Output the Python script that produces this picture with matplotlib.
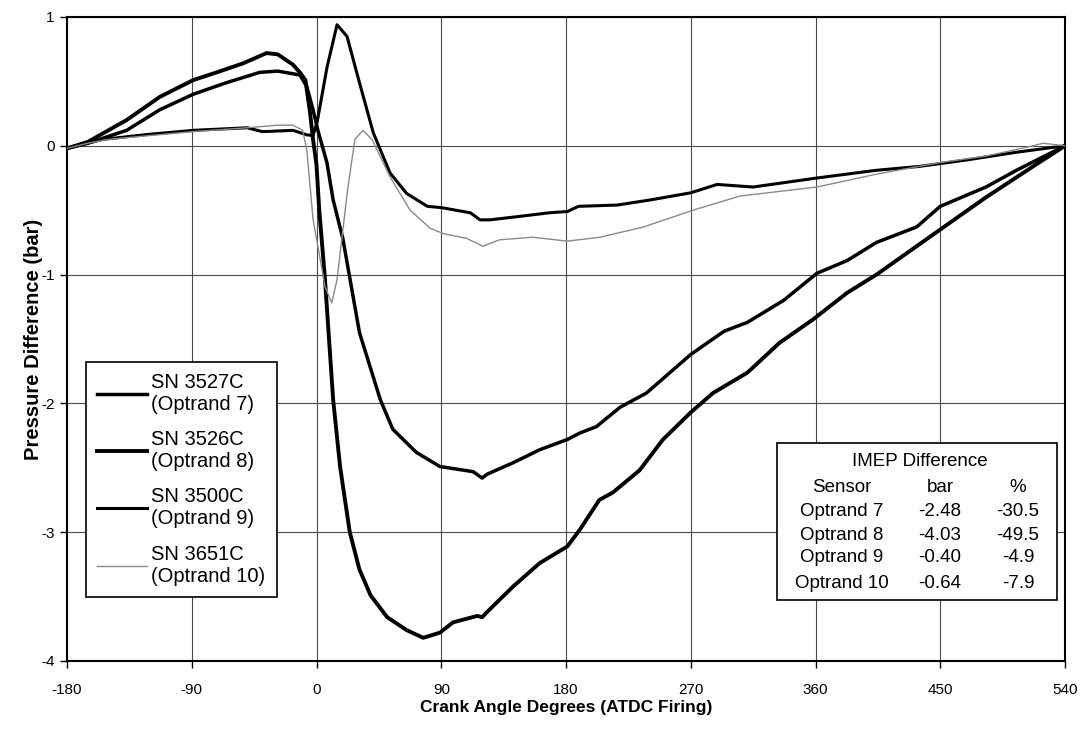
import matplotlib
matplotlib.use("Agg")
import matplotlib.pyplot as plt

plt.rcParams['font.family'] = ['Liberation Sans', 'DejaVu Sans']
plt.rcParams['axes.unicode_minus'] = False

# ---------------- data ----------------
labels = ["SN 3527C\n(Optrand 7)", "SN 3526C\n(Optrand 8)",
          "SN 3500C\n(Optrand 9)", "SN 3651C\n(Optrand 10)"]

x7 = [-180, -165, -137, -113, -89, -65, -41, -28, -12, -7, -2.5, 1, 7.5, 12, 19, 31, 46, 55,
      72, 89, 113, 119.5, 123, 142, 161, 181, 190, 202, 219, 238, 270, 294, 311, 337, 361,
      383, 404, 433, 450, 483, 505, 540]
y7 = [-0.02, 0.02, 0.12, 0.28, 0.40, 0.49, 0.57, 0.58, 0.55, 0.46, 0.28, 0.12, -0.13, -0.42,
      -0.72, -1.45, -1.97, -2.2, -2.38, -2.49, -2.53, -2.58, -2.55, -2.46, -2.36, -2.28, -2.23,
      -2.18, -2.03, -1.92, -1.62, -1.44, -1.37, -1.2, -0.99, -0.89, -0.75, -0.63, -0.47, -0.32,
      -0.19, 0.0]

x8 = [-180, -165, -137, -113, -89, -72, -53, -36, -28, -17, -12, -8, -4.7, -2.5, 0, 2, 6, 12,
      17, 24, 31, 39, 51, 65, 77, 89, 98.5, 116, 119.5, 123, 142, 161, 181, 190, 204, 214,
      233, 250, 270, 286, 311, 334, 358, 383, 404, 450, 483, 517, 540]
y8 = [-0.02, 0.03, 0.2, 0.38, 0.51, 0.57, 0.64, 0.72, 0.71, 0.63, 0.57, 0.51, 0.26, 0.05,
      -0.15, -0.5, -1.02, -1.97, -2.49, -3.0, -3.29, -3.49, -3.66, -3.76, -3.82, -3.78, -3.70,
      -3.65, -3.66, -3.62, -3.42, -3.24, -3.11, -2.98, -2.75, -2.69, -2.52, -2.28, -2.07,
      -1.92, -1.76, -1.53, -1.35, -1.14, -1.0, -0.65, -0.40, -0.16, 0.0]

x9 = [-180, -165, -154, -120, -89, -50, -39, -17, -7, -2.5, 0.4, 7.6, 14.8, 22, 31, 41, 53,
      65, 80, 90, 111, 118, 125, 145, 168, 181, 189, 217, 241, 270, 289, 315, 361, 404, 435,
      469, 505, 540]
y9 = [-0.02, 0.02, 0.05, 0.09, 0.12, 0.14, 0.11, 0.12, 0.085, 0.08, 0.18, 0.61, 0.94, 0.85,
      0.49, 0.10, -0.21, -0.37, -0.47, -0.48, -0.52, -0.575, -0.575, -0.55, -0.52, -0.51,
      -0.47, -0.46, -0.42, -0.365, -0.30, -0.32, -0.25, -0.19, -0.16, -0.11, -0.05, 0.0]

x10 = [-180, -165, -150, -120, -89, -50, -28, -17, -10, -7, -2.5, 1, 4, 6, 11, 14.8, 18.4,
       22.7, 27.7, 33.5, 40, 53, 67.5, 82, 91, 108.6, 120, 132, 156, 181, 204.5, 236, 271.6,
       305.6, 361, 404, 450, 483, 517, 524, 540]
y10 = [-0.02, 0.02, 0.05, 0.08, 0.11, 0.14, 0.16, 0.16, 0.12, -0.03, -0.57, -0.78, -0.96,
       -1.09, -1.22, -1.04, -0.71, -0.32, 0.05, 0.12, 0.05, -0.24, -0.5, -0.64, -0.68, -0.72,
       -0.78, -0.73, -0.71, -0.74, -0.71, -0.63, -0.5, -0.39, -0.32, -0.22, -0.13, -0.08, 0.0,
       0.02, 0.0]

xticks = [-180, -90, 0, 90, 180, 270, 360, 450, 540]
yticks = [-4, -3, -2, -1, 0, 1]

table_title = "IMEP Difference"
table_header = ["Sensor", "bar", "%"]
table_sensors = ["Optrand 7", "Optrand 8", "Optrand 9", "Optrand 10"]
table_bar = ["-2.48", "-4.03", "-0.40", "-0.64"]
table_pct = ["-30.5", "-49.5", "-4.9", "-7.9"]

# ---------------- figure ----------------
fig = plt.figure(figsize=(10.81, 7.32), dpi=100)
ax = fig.add_axes([67 / 1081, 1 - 661 / 732, 998 / 1081, 644 / 732])

ax.plot(x7, y7, color='black', lw=2.5, label=labels[0], zorder=3)
ax.plot(x8, y8, color='black', lw=2.8, label=labels[1], zorder=3)
ax.plot(x9, y9, color='black', lw=2.2, label=labels[2], zorder=3)
ax.plot(x10, y10, color='#8a8a8a', lw=1.0, label=labels[3], zorder=3)

ax.set_xlim(-180, 540)
ax.set_ylim(-4, 1)
ax.set_xticks(xticks)
ax.set_yticks(yticks)
ax.grid(True, color='#4a4a4a', lw=0.8)
ax.set_axisbelow(True)
for s in ax.spines.values():
    s.set_linewidth(1.5)
    s.set_color('black')
ax.tick_params(direction='out', length=5, width=1, labelsize=11)
ax.tick_params(axis='x', pad=11)
ax.tick_params(axis='y', pad=4)

ax.set_xlabel("Crank Angle Degrees (ATDC Firing)", fontsize=12.5, fontweight='bold')
ax.xaxis.set_label_coords(0.5, (661 - 700) / 644)
ax.set_ylabel("Pressure Difference (bar)", fontsize=14.5, fontweight='bold')
ax.yaxis.set_label_coords((43 - 67) / 998, 0.5)

leg = ax.legend(loc='upper left', bbox_to_anchor=(0.019, 0.464), borderaxespad=0,
                fontsize=14.5, frameon=True, fancybox=False, handlelength=2.5,
                handletextpad=0.2, labelspacing=0.8, borderpad=0.55)
leg.get_frame().set_edgecolor('black')
leg.get_frame().set_linewidth(1.2)
leg.get_frame().set_alpha(1)

# ---------------- table box ----------------
def px(xp, yp):
    return ((xp - 67) / 998, (661 - yp) / 644)

x0, y0 = px(777, 600)
x1, y1 = px(1057, 443)
rect = plt.Rectangle((x0, y0), x1 - x0, y1 - y0, transform=ax.transAxes,
                     facecolor='white', edgecolor='black', lw=1.2, zorder=5)
ax.add_patch(rect)

fs = 13.5
tx, ty = px(920, 462)
ax.text(tx, ty, table_title, transform=ax.transAxes, ha='center', va='center', fontsize=fs, zorder=6)
col_x = [842, 940, 1018]
row_y = [488, 512, 535, 558, 583]
rows = [table_header] + [[s, b, p] for s, b, p in zip(table_sensors, table_bar, table_pct)]
for r, yy in zip(rows, row_y):
    for c, xx in zip(r, col_x):
        a, b = px(xx, yy)
        ax.text(a, b, c, transform=ax.transAxes, ha='center', va='center', fontsize=fs, zorder=6)

fig.savefig("out.png", dpi=100)
